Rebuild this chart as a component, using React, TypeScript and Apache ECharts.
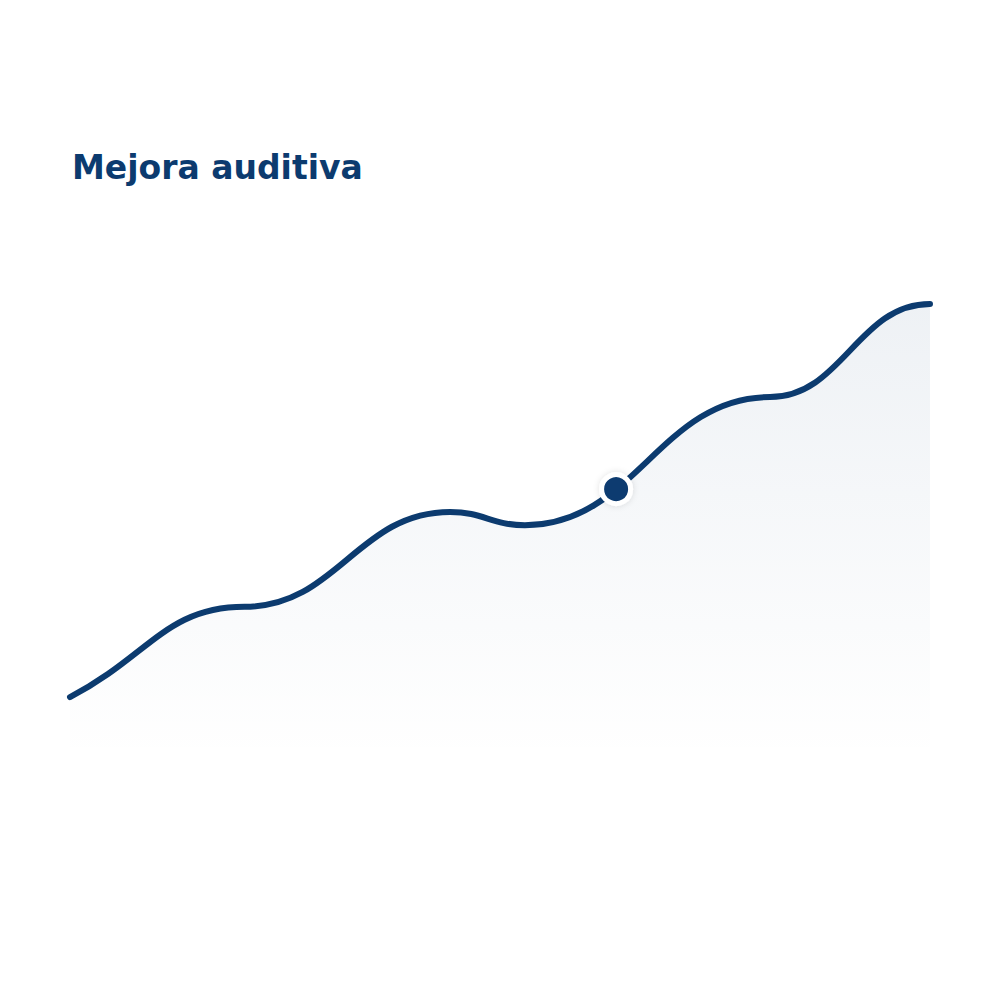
import React, { useEffect, useRef } from 'react';
import * as echarts from 'echarts';

// progress along the period (0..100) and hearing improvement score
const progress = [0, 20.3, 44.2, 52.9, 81.4, 100];
const mejora = [13.8, 33.6, 54.4, 51.5, 79.6, 100];
// highlighted reading
const markerProgress = [63.5];
const markerMejora = [59.4];

const title = 'Mejora auditiva';
const navy = '#0c3b6f';
const SMOOTH = 0.45;

// smooth curve with flat tangents at the readings; the first one leaves along its segment
const renderCurve = (_params: any, api: any) => {
  const pts = progress.map((x, i) => api.coord([x, mejora[i]]));
  const base = api.coord([0, 0])[1];
  let d = `M${pts[0][0]},${pts[0][1]}`;
  for (let i = 1; i < pts.length; i++) {
    const [x0, y0] = pts[i - 1];
    const [x1, y1] = pts[i];
    const dx = (x1 - x0) * SMOOTH;
    const startY = i === 1 ? y0 + (y1 - y0) * SMOOTH : y0;
    d += ` C${x0 + dx},${startY} ${x1 - dx},${y1} ${x1},${y1}`;
  }
  const last = pts[pts.length - 1];
  const area = `${d} L${last[0]},${base} L${pts[0][0]},${base} Z`;
  return {
    type: 'group',
    children: [
      {
        type: 'path',
        shape: { pathData: area },
        style: {
          fill: new echarts.graphic.LinearGradient(0, 0, 0, 1, [
            { offset: 0, color: 'rgba(12,59,111,0.07)' },
            { offset: 1, color: 'rgba(12,59,111,0)' },
          ]),
          stroke: 'none',
        },
      },
      {
        type: 'path',
        shape: { pathData: d },
        style: {
          fill: 'none',
          stroke: navy,
          lineWidth: 6,
          lineCap: 'round',
          lineJoin: 'round',
        },
      },
    ],
  };
};

export default function App() {
  const chartRef = useRef<HTMLDivElement>(null);

  useEffect(() => {
    if (!chartRef.current) return;
    const chart = echarts.init(chartRef.current, undefined, { renderer: 'svg' });

    const markerData = markerProgress.map((x, i) => [x, markerMejora[i]]);

    chart.setOption({
      animation: false,
      backgroundColor: '#ffffff',
      title: {
        text: title,
        left: 67,
        top: 146,
        textStyle: {
          fontFamily: 'DejaVu Sans',
          fontSize: 33,
          fontWeight: 'bold',
          color: navy,
        },
      },
      grid: { left: 70, right: 70, top: 304, bottom: 240 },
      xAxis: { type: 'value', min: 0, max: 100, show: false },
      yAxis: { type: 'value', min: 0, max: 100, show: false },
      series: [
        {
          type: 'custom',
          data: [[0, 0]],
          clip: false,
          silent: true,
          renderItem: renderCurve,
        },
        {
          type: 'scatter',
          data: markerData,
          symbol: 'circle',
          symbolSize: 29,
          itemStyle: {
            color: navy,
            opacity: 1,
            borderColor: '#ffffff',
            borderWidth: 5,
            shadowBlur: 6,
            shadowColor: 'rgba(0,0,0,0.12)',
          },
          z: 5,
        },
      ],
    });

    return () => {
      chart.dispose();
    };
  }, []);

  return (
    <div
      ref={chartRef}
      style={{ position: 'fixed', left: 0, top: 0, width: '1000px', height: '1000px' }}
    />
  );
}
